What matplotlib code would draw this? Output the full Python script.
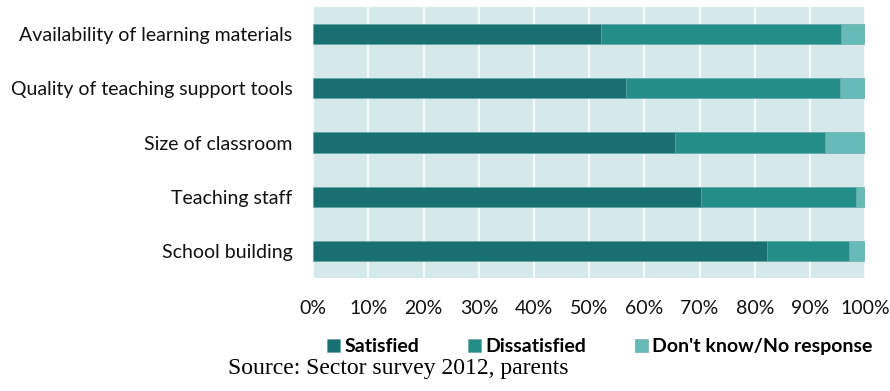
import numpy as np
from matplotlib import pyplot as plt

categories = ['School building', 'Teaching staff', 'Size of classroom',
              'Quality of teaching support tools', 'Availability of learning materials']
satisfied = [82.2, 70.3, 65.6, 56.6, 52.2]
dissatisfied = [14.8, 28.1, 27.1, 38.8, 43.4]
dont_know = [3.0, 1.6, 7.3, 4.6, 4.4]
series_names = ['Satisfied', 'Dissatisfied', "Don't know/No response"]
colors = ['#187072', '#238e88', '#66bab8']

fig = plt.figure(figsize=(8.9, 3.91), dpi=100)
ax = fig.add_axes([0.352, 0.289, 0.62, 0.693])
ax.set_facecolor('#d5e9ea')

y = np.arange(len(categories))
left = np.zeros(len(categories))
for vals, name, col in zip([satisfied, dissatisfied, dont_know], series_names, colors):
    ax.barh(y, vals, left=left, height=0.37, color=col, label=name,
            edgecolor='#5fa3a3', linewidth=0.4, zorder=3)
    left += np.array(vals)

ax.set_xlim(0, 100)
ax.set_ylim(-0.5, 4.5)
ax.set_xticks(np.arange(0, 101, 10))
ax.set_xticklabels([f'{v}%' for v in range(0, 101, 10)])
ax.set_yticks(y)
ax.set_yticklabels(categories)
ax.xaxis.grid(True, color='#f4fafa', linewidth=1.6, zorder=1)
ax.set_axisbelow(True)
for s in ax.spines.values():
    s.set_visible(False)
ax.tick_params(axis='both', length=0, labelsize=14, labelcolor='#111111')
ax.tick_params(axis='x', pad=16)
ax.tick_params(axis='y', pad=15)
for lab in ax.get_xticklabels() + ax.get_yticklabels():
    lab.set_family('Lato')

leg = fig.legend(loc='center', bbox_to_anchor=(0.674, 0.114), ncol=3, frameon=False,
                 prop={'family': 'Lato', 'weight': 'bold', 'size': 14},
                 handlelength=0.65, handleheight=0.65, handletextpad=0.25, columnspacing=2.5)

fig.text(0.448, 0.058, 'Source: Sector survey 2012, parents', ha='center', va='center',
         family='Liberation Serif', fontsize=17)

plt.savefig('out.png', dpi=100)
